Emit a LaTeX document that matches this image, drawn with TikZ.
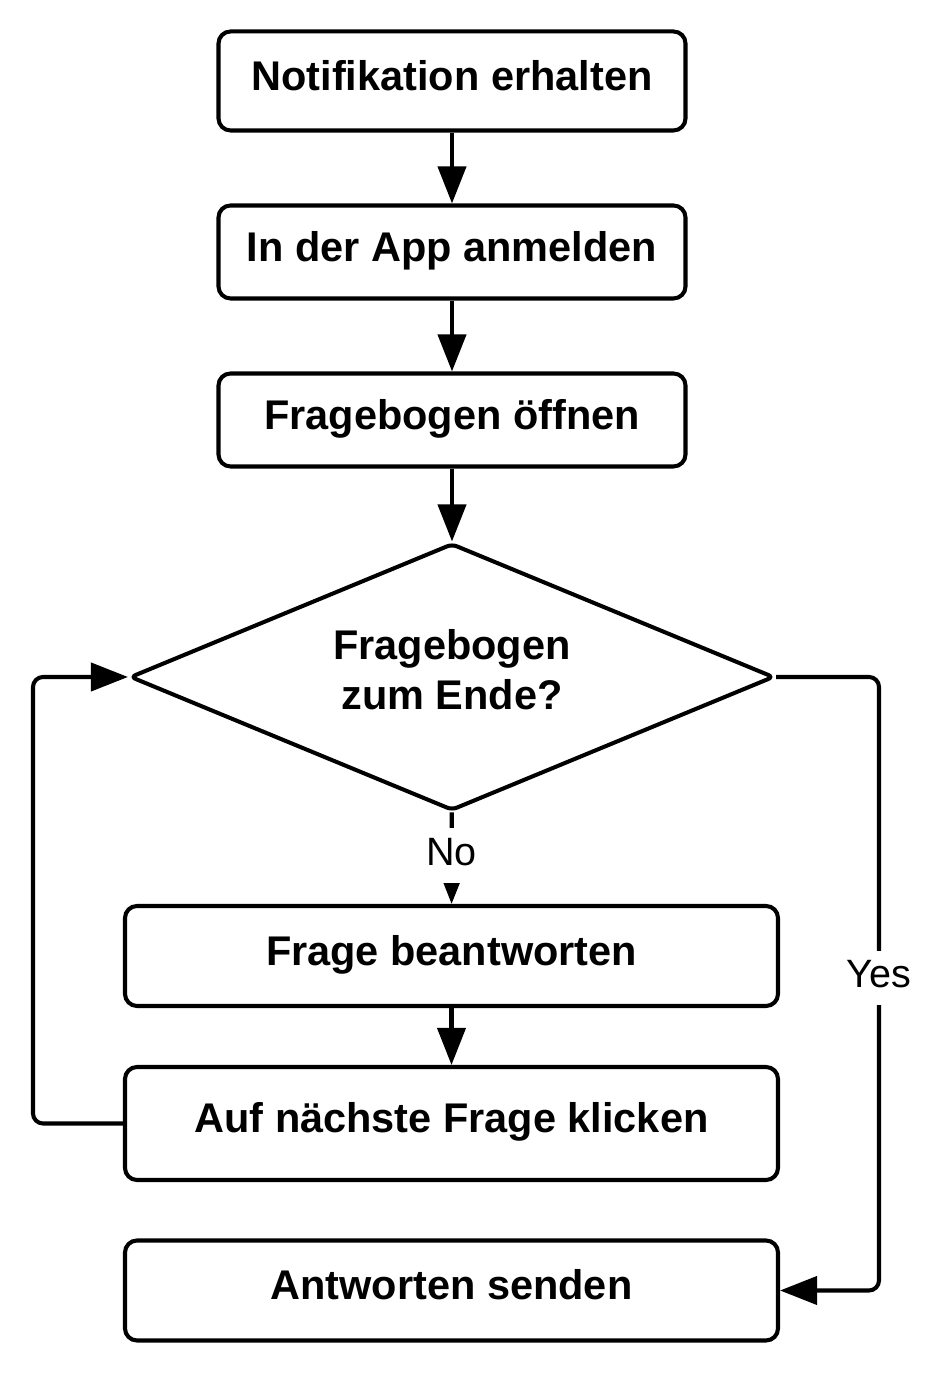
\documentclass[tikz,border=0pt]{standalone}
\usepackage{fontspec}
\setmainfont{Liberation Sans}
\usetikzlibrary{shapes.geometric,arrows.meta}
\tikzset{
  stepbox/.style={rectangle,rounded corners=0.24cm,draw,line width=2.3pt,
    font=\fontsize{23.6}{28}\selectfont\bfseries,align=center,inner sep=0pt,
    text height=0.68cm,text depth=0.3cm},
  decision/.style={diamond,aspect=2.41,draw,line width=2.3pt,rounded corners=3pt,
    font=\fontsize{23.6}{28}\selectfont\bfseries,align=center,inner sep=0pt},
  answer/.style={fill=white,font=\fontsize{22.5}{27}\selectfont,inner xsep=2pt,
    inner ysep=0.2cm,text depth=0.15cm},
  flow/.style={line width=2.3pt,rounded corners=0.2cm,
    -{Triangle[length=0.74cm,width=0.56cm]}}
}
\begin{document}
\begin{tikzpicture}
          \useasboundingbox (0,0) rectangle (18.68,27.66);
          \begin{scope}[every node/.style={stepbox}]
            \node[minimum width=9.34cm,minimum height=1.98cm] (notif) at (9.04,26.04) {Notifikation erhalten};
            \node[minimum width=9.34cm,minimum height=1.86cm] (login) at (9.04,22.62) {In der App anmelden};
            \node[minimum width=9.34cm,minimum height=1.86cm] (open) at (9.04,19.26) {Fragebogen öffnen};
            \node[minimum width=13.06cm,minimum height=2.0cm] (answer) at (9.03,8.54) {Frage beantworten};
            \node[minimum width=13.06cm,minimum height=2.26cm] (next) at (9.03,5.19) {Auf nächste Frage klicken};
            \node[minimum width=13.06cm,minimum height=2.0cm] (send) at (9.03,1.85) {Antworten senden};
          \end{scope}
          \node[decision,minimum width=12.88cm,minimum height=5.34cm] (end) at (9.04,14.12)
            {Fragebogen\\zum Ende?\rule[-0.3cm]{0pt}{0pt}};
          \coordinate (left) at (0.66,0);
          \coordinate (right) at (17.58,0);
          \begin{scope}[every path/.style={flow}]
            \draw (notif) -- (login);
            \draw (login) -- (open);
            \draw (open) -- (end);
            \draw (end) -- node[answer,pos=0.47] (no) {No} (answer);
            \draw (answer) -- (next);
            \draw (next.west) -- (next.west -| left) |- (end.west);
            \draw (end.east) -| (send.east -| right) -- (send.east);
          \end{scope}
          \node[answer] (yes) at (17.58,8.1) {Yes};
        \end{tikzpicture}
\end{document}
